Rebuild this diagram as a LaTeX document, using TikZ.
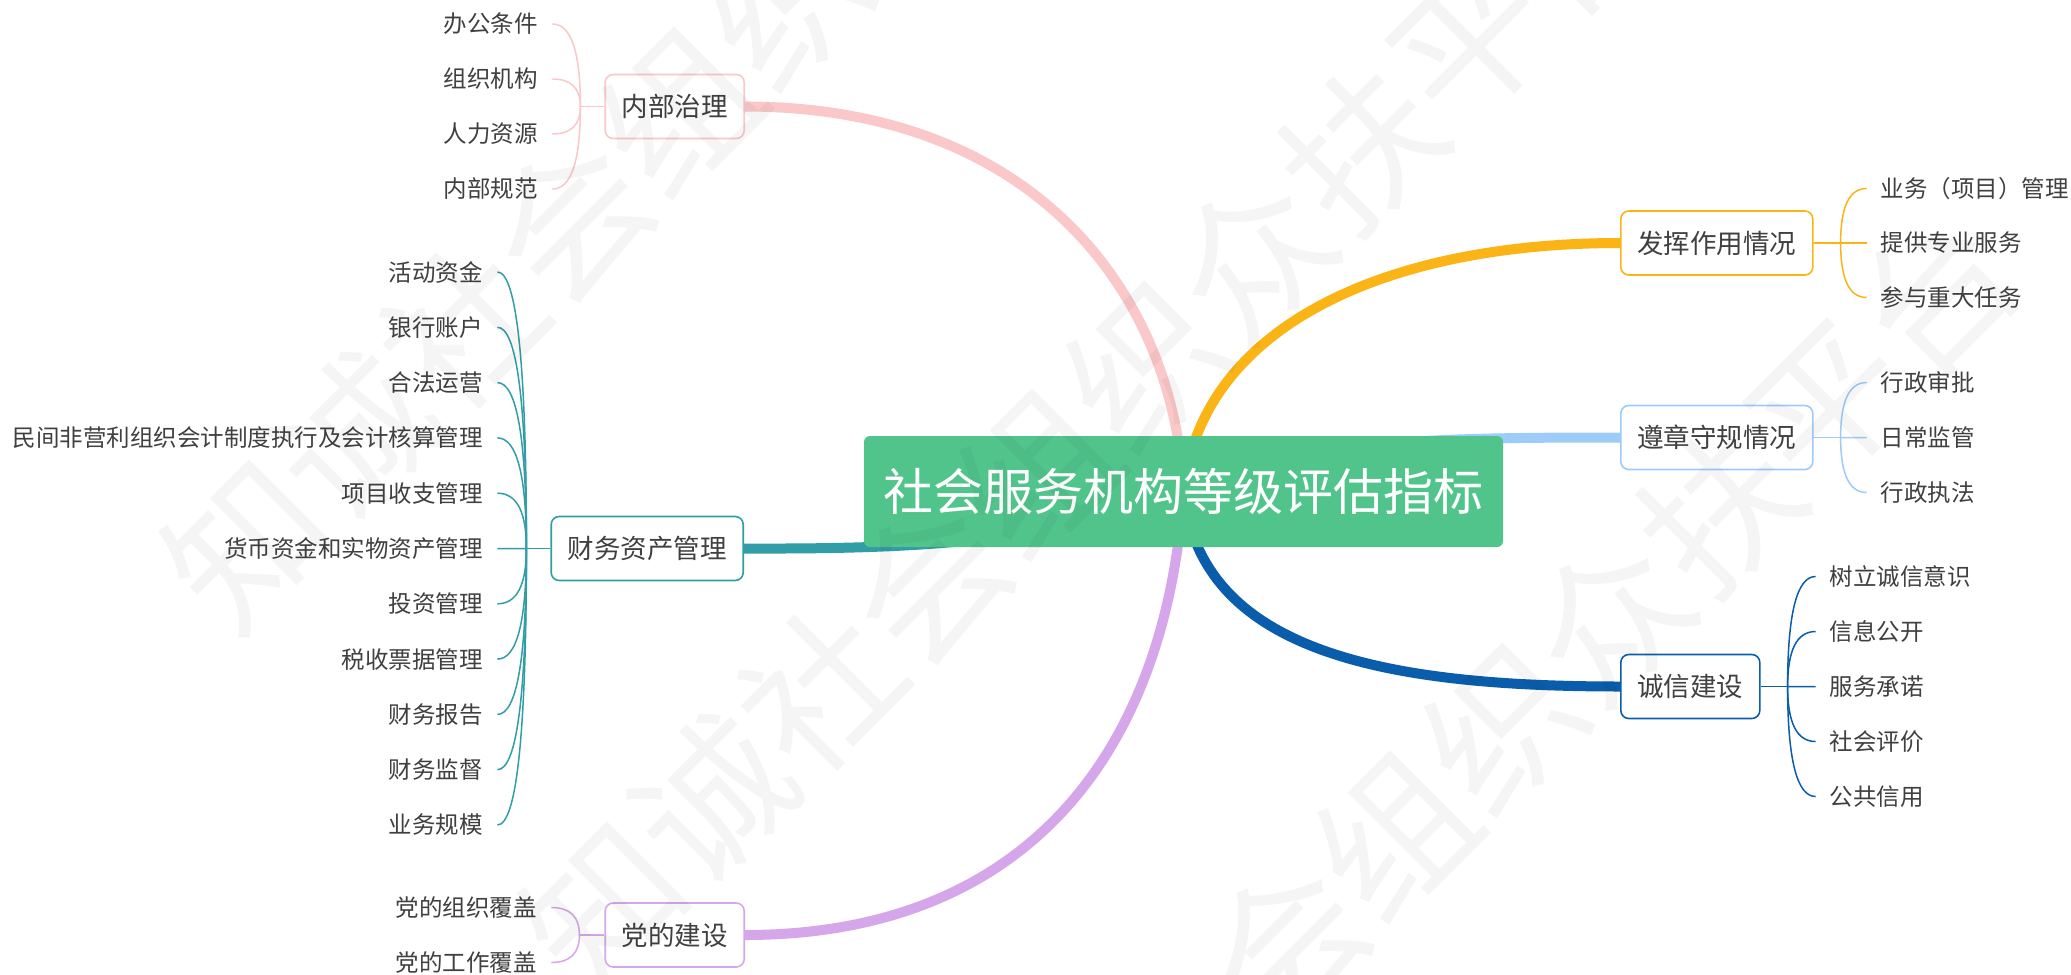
\documentclass[tikz,border=0pt]{standalone}
\usepackage{fontspec}
\setmainfont{Noto Sans CJK SC}
\usetikzlibrary{calc}
\definecolor{cPink}{HTML}{FAC8C8}
\definecolor{cTeal}{HTML}{319DA6}
\definecolor{cPurple}{HTML}{D5A6E9}
\definecolor{cOrange}{HTML}{FAB416}
\definecolor{cLBlue}{HTML}{9DCCF8}
\definecolor{cDBlue}{HTML}{0A5DAA}
\definecolor{cGreen}{HTML}{51C48C}
\definecolor{cText}{HTML}{404040}
\pgfdeclarelayer{bg}
\pgfdeclarelayer{fg}
\pgfsetlayers{bg,main,fg}
\tikzset{
  rootbox/.style={fill=cGreen, rounded corners=6pt, minimum width=639pt, minimum height=111pt,
    inner sep=0pt, text=white, font=\fontsize{50}{60}\selectfont},
  topicbox/.style={draw=#1, fill=white, line width=1.6pt, rounded corners=8pt, minimum height=64pt,
    inner xsep=16.5pt, inner ysep=0pt, text=cText, font=\fontsize{26.5}{32}\selectfont},
  leafL/.style={anchor=east, inner xsep=14.5pt, inner ysep=0pt, text=cText, font=\fontsize{23.5}{28}\selectfont},
  leafR/.style={anchor=west, inner xsep=14pt, inner ysep=0pt, text=cText, font=\fontsize{23.5}{28}\selectfont},
  mainbr/.style={draw=#1, line width=10pt},
  subbr/.style={draw=#1, line width=1.5pt},
  wmark/.style={rotate=45, inner sep=0pt, text=black, text opacity=0.04, font=\fontsize{153}{160}\selectfont}
}
\newcommand\leafline[3]{\draw[subbr=#1] (#2) .. controls ($(#2)!0.6667!(#2 |- #3)$) and ($(#3)!0.6667!(#2 |- #3)$) .. (#3);}

\begin{document}
\begin{tikzpicture}[x=1pt,y=-1pt]
\useasboundingbox (0,0) rectangle (2071,974);

% root
\node[rootbox] (root) at (1183.5,491.5) {社会服务机构等级评估指标};

% topics
\node[topicbox=cPink, anchor=east] (t1) at (745,106.5) {内部治理};
\node[topicbox=cTeal, anchor=east] (t2) at (744,548.5) {财务资产管理};
\node[topicbox=cPurple, anchor=east] (t3) at (745,935) {党的建设};
\node[topicbox=cOrange, anchor=west] (t4) at (1620,243) {发挥作用情况};
\node[topicbox=cLBlue, anchor=west] (t5) at (1620,437.5) {遵章守规情况};
\node[topicbox=cDBlue, anchor=west] (t6) at (1620,686.5) {诚信建设};

% junctions
\coordinate (j1) at ($(t1.west)+(-24,0)$);
\coordinate (j2) at ($(t2.west)+(-24,0)$);
\coordinate (j3) at ($(t3.west)+(-25,0)$);
\coordinate (j4) at ($(t4.east)+(27,0)$);
\coordinate (j5) at ($(t5.east)+(27,0)$);
\coordinate (j6) at ($(t6.east)+(27,0)$);

\begin{pgfonlayer}{bg}
\fill[white] (0,0) rectangle (2071,974);
% main branches
\draw[mainbr=cPink] (root.center) .. controls (1175,300) and (1040,107) .. (t1.east);
\draw[mainbr=cTeal] (root.center) .. controls (1050,545) and (900,549) .. (t2.east);
\draw[mainbr=cPurple] (root.center) .. controls (1165,760) and (1020,935) .. (t3.east);
\draw[mainbr=cOrange] (root.center) .. controls (1200,330) and (1380,243) .. (t4.west);
\draw[mainbr=cLBlue] (root.center) .. controls (1300,440) and (1420,437.5) .. (t5.west);
\draw[mainbr=cDBlue] (root.center) .. controls (1200,650) and (1380,686.5) .. (t6.west);
% stems
\draw[subbr=cPink] (t1.west) -- (j1);
\draw[subbr=cTeal] (t2.west) -- (j2);
\draw[subbr=cPurple] (t3.west) -- (j3);
\draw[subbr=cOrange] (t4.east) -- (j4);
\draw[subbr=cLBlue] (t5.east) -- (j5);
\draw[subbr=cDBlue] (t6.east) -- (j6);
\end{pgfonlayer}

% leaves: 内部治理
\foreach \txt [count=\i] in {办公条件,组织机构,人力资源,内部规范} {
  \node[leafL] (a\i) at ($(j1)+(-28,{(\i-2.5)*55})$) {\txt};
  \begin{pgfonlayer}{bg}\leafline{cPink}{j1}{a\i.east}\end{pgfonlayer}
}
% leaves: 财务资产管理
\foreach \txt [count=\i] in {活动资金,银行账户,合法运营,民间非营利组织会计制度执行及会计核算管理,项目收支管理,货币资金和实物资产管理,投资管理,税收票据管理,财务报告,财务监督,业务规模} {
  \node[leafL] (b\i) at ($(j2)+(-29,{(\i-6)*55.3})$) {\txt};
  \begin{pgfonlayer}{bg}\leafline{cTeal}{j2}{b\i.east}\end{pgfonlayer}
}
% leaves: 党的建设
\foreach \txt [count=\i] in {党的组织覆盖,党的工作覆盖} {
  \node[leafL] (c\i) at ($(j3)+(-28,{(\i-1.5)*55})$) {\txt};
  \begin{pgfonlayer}{bg}\leafline{cPurple}{j3}{c\i.east}\end{pgfonlayer}
}
% leaves: 发挥作用情况
\foreach \txt [count=\i] in {业务（项目）管理,提供专业服务,参与重大任务} {
  \node[leafR] (d\i) at ($(j4)+(26,{(\i-2)*54.5})$) {\txt};
  \begin{pgfonlayer}{bg}\leafline{cOrange}{j4}{d\i.west}\end{pgfonlayer}
}
% leaves: 遵章守规情况
\foreach \txt [count=\i] in {行政审批,日常监管,行政执法} {
  \node[leafR] (e\i) at ($(j5)+(26,{(\i-2)*55})$) {\txt};
  \begin{pgfonlayer}{bg}\leafline{cLBlue}{j5}{e\i.west}\end{pgfonlayer}
}
% leaves: 诚信建设
\foreach \txt [count=\i] in {树立诚信意识,信息公开,服务承诺,社会评价,公共信用} {
  \node[leafR] (f\i) at ($(j6)+(28,{(\i-3)*55})$) {\txt};
  \begin{pgfonlayer}{bg}\leafline{cDBlue}{j6}{f\i.west}\end{pgfonlayer}
}

% watermark
\begin{pgfonlayer}{fg}
\foreach \cx/\cy [count=\k] in {732.5/57, 1090.5/419, 1448.5/781} {
  \node[wmark] (wm\k) at (\cx,\cy) {知诚社会组织众扶平台};
}
\end{pgfonlayer}
\end{tikzpicture}
\end{document}
